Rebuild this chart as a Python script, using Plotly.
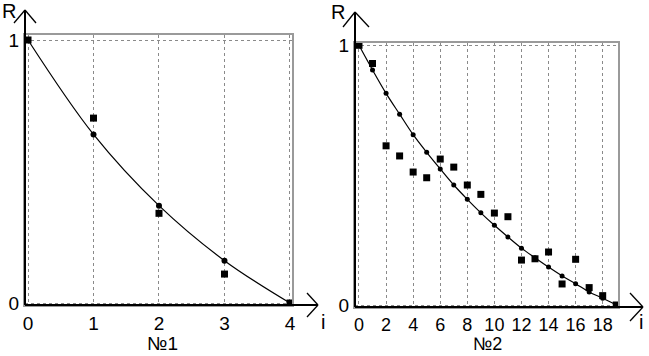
import plotly.graph_objects as go

# ---------------- data ----------------
i1 = [0, 1, 2, 3, 4]
r1_exp = [1.0, 0.703, 0.341, 0.110, 0.0]        # squares (experimental)
r1_fit = [1.0, 0.641, 0.370, 0.161, 0.0]        # curve dots (model)

i2 = list(range(20))
r2_exp = [1.0, 0.930, 0.613, 0.574, 0.512, 0.490, 0.562, 0.531, 0.462, 0.426,
          0.354, 0.340, 0.173, 0.178, 0.204, 0.081, 0.176, 0.067, 0.036, 0.0]
r2_fit = [1.0, 0.905, 0.815, 0.735, 0.656, 0.588, 0.524, 0.462, 0.407, 0.355,
          0.307, 0.262, 0.219, 0.182, 0.146, 0.112, 0.082, 0.050, 0.026, 0.0]

x1_ticks = [0, 1, 2, 3, 4]
x2_ticks = [0, 2, 4, 6, 8, 10, 12, 14, 16, 18]
y_ticks = [0, 1]

W, H = 649, 356
FONT = "Liberation Sans, Arial, sans-serif"


def px(x):
    return x / W


def py(y):
    return 1 - y / H


fig = go.Figure()

# left panel
fig.add_trace(go.Scatter(x=i1, y=r1_fit, mode="lines", line=dict(color="black", width=1.2, shape="spline"),
                         xaxis="x", yaxis="y", hoverinfo="skip"))
fig.add_trace(go.Scatter(x=i1[1:-1], y=r1_fit[1:-1], mode="markers",
                         marker=dict(symbol="circle", size=6, color="black"), xaxis="x", yaxis="y"))
fig.add_trace(go.Scatter(x=i1, y=r1_exp, mode="markers",
                         marker=dict(symbol="square", size=7, color="black"), xaxis="x", yaxis="y"))

# right panel
fig.add_trace(go.Scatter(x=i2, y=r2_fit, mode="lines", line=dict(color="black", width=1.2, shape="spline"),
                         xaxis="x2", yaxis="y2", hoverinfo="skip"))
fig.add_trace(go.Scatter(x=i2[1:-1], y=r2_fit[1:-1], mode="markers",
                         marker=dict(symbol="circle", size=5, color="black"), xaxis="x2", yaxis="y2"))
fig.add_trace(go.Scatter(x=i2, y=r2_exp, mode="markers",
                         marker=dict(symbol="square", size=7, color="black"), xaxis="x2", yaxis="y2"))

grid = dict(showgrid=True, gridcolor="#8a8a8a", gridwidth=1, griddash="dot", zeroline=False,
            showline=True, linecolor="#9a9a9a", linewidth=2, mirror=True, ticks="", automargin=False,
            tickfont=dict(family=FONT, size=19, color="black"), fixedrange=True)

fig.update_layout(
    width=W, height=H, margin=dict(l=0, r=0, t=0, b=0, autoexpand=False),
    paper_bgcolor="white", plot_bgcolor="white", showlegend=False,
    font=dict(family=FONT, color="black"),
    xaxis=dict(domain=[px(25), px(292)], range=[-0.046, 4.031], tickvals=x1_ticks, anchor="y", **grid),
    yaxis=dict(domain=[py(305), py(35)], range=[-0.0076, 1.019], tickvals=y_ticks, anchor="x", **grid),
    xaxis2=dict(domain=[px(355), px(618)], range=[-0.295, 19.13], tickvals=x2_ticks, anchor="y2",
                **{**grid, "tickfont": dict(family=FONT, size=18, color="black")}),
    yaxis2=dict(domain=[py(307), py(43)], range=[-0.0077, 1.0089], tickvals=y_ticks, anchor="x2", **grid),
)

shapes = []


def line(x0, y0, x1, y1):
    shapes.append(dict(type="line", xref="paper", yref="paper", x0=px(x0), y0=py(y0), x1=px(x1), y1=py(y1),
                       line=dict(color="black", width=2)))


def thin(x0, y0, x1, y1):
    shapes.append(dict(type="line", xref="paper", yref="paper", x0=px(x0), y0=py(y0), x1=px(x1), y1=py(y1),
                       line=dict(color="black", width=1.3)))


# left axes with arrows
line(25, 305, 25, 10)
thin(14, 23, 25, 10); thin(25, 10, 36, 23)
line(25, 305, 318, 305)
thin(307, 293, 318, 305); thin(318, 305, 307, 317)
# right axes with arrows
line(355, 307, 355, 12)
thin(343, 27, 355, 12); thin(355, 12, 369, 27)
line(355, 307, 643, 307)
thin(630, 293, 643, 307); thin(643, 307, 630, 321)
fig.update_layout(shapes=shapes)

ann = []


def text(x, y, s, size=20):
    ann.append(dict(x=px(x), y=py(y), xref="paper", yref="paper", text=s, showarrow=False,
                    font=dict(family=FONT, size=size, color="black"), xanchor="center", yanchor="middle"))


text(9, 11, "R")
text(323, 322, "i")
text(338, 12, "R")
text(641, 322, "i")
text(162, 343, "№1", 19)
text(487, 344, "№2", 18)
fig.update_layout(annotations=ann)

fig.write_html("out.html", config={"displayModeBar": False, "staticPlot": True})

# remove the default page margin so the figure fills the window exactly
with open("out.html", encoding="utf-8") as f:
    html = f.read()
html = html.replace("<head>", "<head><style>html,body{margin:0;padding:0;overflow:hidden;}</style>", 1)
with open("out.html", "w", encoding="utf-8") as f:
    f.write(html)
